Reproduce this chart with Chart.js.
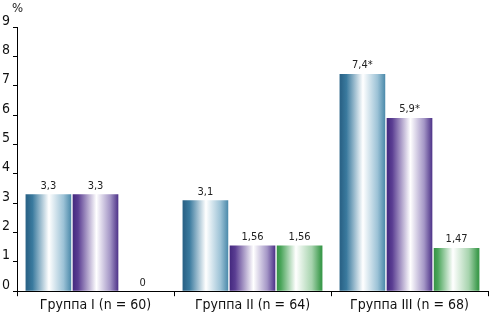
<!DOCTYPE html>
<html><head><meta charset="utf-8">
<script src="https://cdn.jsdelivr.net/npm/chart.js@4.4.1/dist/chart.umd.min.js"></script>
<style>html,body{margin:0;padding:0;background:#fff}#w{width:489px;height:315px}</style>
</head><body><div id="w"><canvas id="c"></canvas></div>
<script>
const categories = ['Группа I (n = 60)', 'Группа II (n = 64)', 'Группа III (n = 68)'];
const series1 = [3.3, 3.1, 7.4];
const series2 = [3.3, 1.56, 5.9];
const series3 = [0, 1.56, 1.47];
const labels1 = ['3,3', '3,1', '7,4*'];
const labels2 = ['3,3', '1,56', '5,9*'];
const labels3 = ['0', '1,56', '1,47'];
const yTicks = [0,1,2,3,4,5,6,7,8,9];
const FONT = '"Liberation Sans Narrow", "DejaVu Sans Condensed", "Liberation Sans", sans-serif';
const stopsSets = [
  [[0,'#2b6488'],[0.12,'#3a7a9e'],[0.48,'#ffffff'],[0.8,'#9cc2d6'],[1,'#3c7fa2']],
  [[0,'#43287e'],[0.12,'#5a3d92'],[0.52,'#ffffff'],[0.82,'#a496c6'],[1,'#4d3288']],
  [[0,'#2f8b3f'],[0.12,'#4aa55a'],[0.45,'#ffffff'],[0.8,'#a6d3ad'],[1,'#3c9a4c']]
];
const CP = 0.9, BP = 0.97;
function grad(ctx){
  const chart = ctx.chart;
  const ds = ctx.datasetIndex;
  const fallback = stopsSets[ds][0][1];
  if (!chart.chartArea || !chart.scales.x) return fallback;
  const xs = chart.scales.x;
  const catW = (xs.right - xs.left) / categories.length;
  const bw = catW * CP * BP / 3;
  const cx = xs.getPixelForValue(ctx.dataIndex) + (ds - 1) * bw;
  const g = chart.ctx.createLinearGradient(cx - bw/2, 0, cx + bw/2, 0);
  stopsSets[ds].forEach(s => g.addColorStop(s[0], s[1]));
  return g;
}
const valueLabels = {
  id: 'valueLabels',
  afterDatasetsDraw(chart){
    const c = chart.ctx;
    const sets = [labels1, labels2, labels3];
    c.save();
    c.font = '11px ' + FONT;
    c.fillStyle = '#222';
    c.textAlign = 'center';
    c.textBaseline = 'bottom';
    chart.data.datasets.forEach((d, i) => {
      chart.getDatasetMeta(i).data.forEach((bar, j) => {
        c.fillText(sets[i][j], bar.x, bar.y - 3);
      });
    });
    c.font = '13px ' + FONT;
    c.textAlign = 'left';
    c.textBaseline = 'middle';
    c.fillText('%', 12, 9);
    c.restore();
  }
};
new Chart(document.getElementById('c'), {
  type: 'bar',
  data: {
    labels: categories,
    datasets: [
      {data: series1, backgroundColor: grad},
      {data: series2, backgroundColor: grad},
      {data: series3, backgroundColor: grad}
    ]
  },
  options: {
    responsive: true, maintainAspectRatio: false, animation: false,
    categoryPercentage: CP, barPercentage: BP,
    layout: {padding: {top: 27, left: 0, right: 1, bottom: 0}},
    plugins: {legend: {display: false}, tooltip: {enabled: false}},
    scales: {
      x: {
        grid: {display: true, drawOnChartArea: false, drawTicks: true, tickLength: 5, color: '#000', offset: true},
        border: {display: true, color: '#000', width: 1},
        ticks: {color: '#111', font: {family: FONT, size: 14}, padding: 1}
      },
      y: {
        min: 0, max: 9,
        afterBuildTicks: s => { s.ticks = yTicks.map(v => ({value: v})); },
        afterFit: s => { s.width = 17; },
        grid: {display: true, drawOnChartArea: false, drawTicks: true, tickLength: 4, color: '#000'},
        border: {display: true, color: '#000', width: 1},
        ticks: {color: '#111', font: {family: FONT, size: 14}, padding: 3, labelOffset: -6}
      }
    }
  },
  plugins: [valueLabels]
});
</script></body></html>
